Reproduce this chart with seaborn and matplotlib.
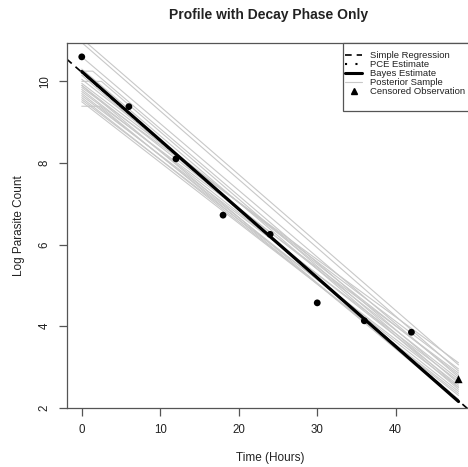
import numpy as np
import pandas as pd
import matplotlib
matplotlib.use("Agg")
import matplotlib.pyplot as plt
import seaborn as sns
from matplotlib.lines import Line2D
from matplotlib.patches import Rectangle

# ---- data ----
obs_time = [0, 6, 12, 18, 24, 30, 36, 42]
obs_logcount = [10.6, 9.38, 8.1, 6.72, 6.25, 4.57, 4.13, 3.85]
cens_time = [48]
cens_logcount = [2.7]

# Bayes / PCE estimates: intercept and slope of the decay line
bayes_intercept, bayes_slope = 10.24, -0.1685
pce_intercept, pce_slope = 10.22, -0.168
est_time_range = [0, 48]

# posterior samples: level at t=0, lag length, value at t=48
post_start = [11.05, 10.95, 10.6, 10.25, 10.0, 9.39, 10.05, 9.95, 9.9, 9.85,
              9.8, 9.75, 9.7, 9.65, 9.6, 9.55, 9.5, 10.15, 10.3, 9.9]
post_lag = [0, 0, 0, 1.4, 2.5, 2.3, 0, 0, 0, 0,
            0, 0, 0, 0, 0, 0, 0, 0, 0, 0]
post_end = [3.05, 2.9, 2.75, 2.6, 2.5, 2.2, 2.8, 2.95, 2.7, 3.1,
            2.55, 2.85, 2.4, 2.65, 2.3, 2.5, 2.35, 2.2, 2.45, 2.15]

x_ticks = [0, 10, 20, 30, 40]
y_ticks = [2, 4, 6, 8, 10]

# ---- style ----
sns.set_theme(style="white")
plt.rcParams['font.family'] = ['Liberation Sans', 'DejaVu Sans']

W, H = 468, 467
fig = plt.figure(figsize=(W / 100, H / 100), dpi=100)
ax = fig.add_axes([66.7 / W, 1 - 407.7 / H, (473.6 - 66.7) / W, (407.7 - 43) / H])
ax.set_xlim(-1.92, 49.92)
ax.set_ylim(2, 10.94)

# posterior samples
rows = []
for i, (s, lag, e) in enumerate(zip(post_start, post_lag, post_end)):
    for t, v in ((0, s), (lag, s), (48, e)):
        rows.append({"sample": i, "time": t, "value": v})
post_df = pd.DataFrame(rows)
sns.lineplot(data=post_df, x="time", y="value", units="sample", estimator=None,
             color="#c8c8c8", linewidth=0.8, ax=ax, sort=False, legend=False)

# simple regression (abline across the whole axis)
obs_df = pd.DataFrame({"time": obs_time, "logcount": obs_logcount})
sns.regplot(data=obs_df, x="time", y="logcount", ci=None, truncate=False, scatter=False,
            line_kws=dict(color="black", linewidth=1.2, linestyle=(0, (4, 3))), ax=ax)

# PCE and Bayes estimates
tt = np.array(est_time_range, dtype=float)
sns.lineplot(x=tt, y=pce_intercept + pce_slope * tt, color="black", linewidth=1.2,
             linestyle=(0, (1, 3)), ax=ax)
sns.lineplot(x=tt, y=bayes_intercept + bayes_slope * tt, color="black", linewidth=2.3, ax=ax)

# observations
sns.scatterplot(data=obs_df, x="time", y="logcount", color="black", s=24,
                edgecolor="none", ax=ax, zorder=5)
sns.scatterplot(x=cens_time, y=cens_logcount, marker="^", color="black", s=34,
                edgecolor="none", ax=ax, zorder=5)

# axes styling (R base look)
axis_col = "#555555"
for side in ["left", "top", "bottom"]:
    ax.spines[side].set_visible(True)
    ax.spines[side].set_color(axis_col)
    ax.spines[side].set_linewidth(0.9)
ax.spines["right"].set_visible(False)
ax.set_xticks(x_ticks)
ax.set_yticks(y_ticks)
ax.set_xticklabels([str(v) for v in x_ticks])
ax.set_yticklabels([str(v) for v in y_ticks], rotation=90, va="center")
ax.tick_params(axis="both", direction="out", length=5.5, width=0.9, color=axis_col,
               labelsize=8.3, labelcolor="#222222", pad=6, bottom=True, left=True)
ax.set_xlabel("Time (Hours)", fontsize=8.5, color="#222222", labelpad=12)
ax.set_ylabel("Log Parasite Count", fontsize=8.5, color="#222222", labelpad=10)
fig.text(269 / W, 1 - 15 / H, "Profile with Decay Phase Only", ha="center", va="center",
         fontsize=10, fontweight="bold", color="#222222")

# legend (R-style box drawn separately)
fig.patches.append(Rectangle((342.7 / W, 1 - 111 / H), (490 - 342.7) / W, (111 - 43.3) / H,
                             transform=fig.transFigure, facecolor="white",
                             edgecolor=axis_col, linewidth=0.9, zorder=9))
handles = [
    Line2D([], [], color="black", linewidth=1.2, linestyle=(0, (4, 3))),
    Line2D([], [], color="black", linewidth=1.5, linestyle=(0, (1, 4))),
    Line2D([], [], color="black", linewidth=2.2),
    Line2D([], [], color="#c8c8c8", linewidth=0.8),
    Line2D([], [], color="black", marker="^", linestyle="none", markersize=4),
]
labels = ["Simple Regression", "PCE Estimate", "Bayes Estimate", "Posterior Sample",
          "Censored Observation"]
leg = fig.legend(handles, labels, loc="upper left", bbox_to_anchor=(345 / W, 1 - 51 / H),
                 fontsize=6.8, frameon=False, handlelength=1.85,
                 handletextpad=0.8, borderpad=0, labelspacing=0.0, borderaxespad=0)
leg.set_zorder(10)
for t in leg.get_texts():
    t.set_color("#222222")

fig.savefig("out.png", dpi=100)
